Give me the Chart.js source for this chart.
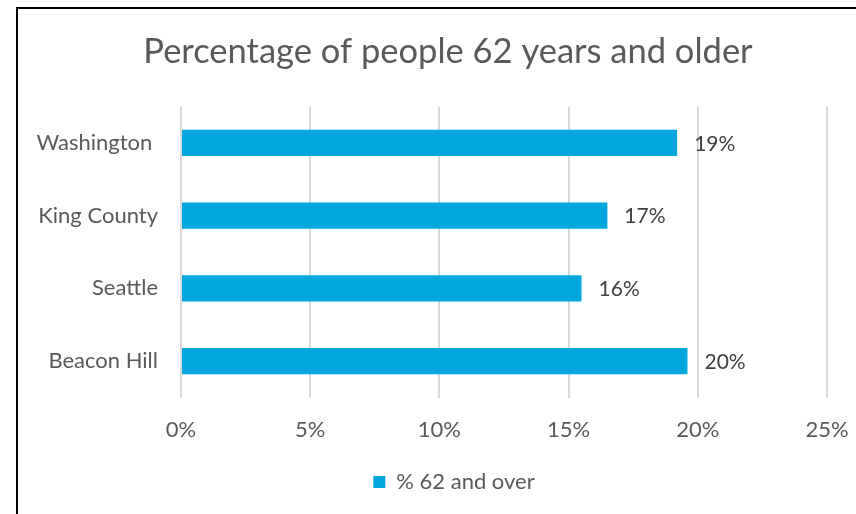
<!DOCTYPE html>
<html>
<head>
<meta charset="utf-8">
<script src="https://cdn.jsdelivr.net/npm/chart.js@4.4.1/dist/chart.umd.min.js"></script>
<style>
  html, body { margin: 0; padding: 0; background: #ffffff; }
  #wrap { position: relative; width: 856px; height: 514px; }
</style>
</head>
<body>
<div id="wrap"><canvas id="chart" width="856" height="514"></canvas></div>
<script>
// Share of residents aged 62+, by area
const categories = ['Washington ', 'King County', 'Seattle', 'Beacon Hill'];
const seriesName = '% 62 and over';
const seriesValues = [19.2, 16.5, 15.5, 19.6];
const axisTicks = [0, 5, 10, 15, 20, 25];
const chartTitle = 'Percentage of people 62 years and older';

const FONT = 'Lato, "Open Sans", sans-serif';
const TEXT = '#595959';
const BLUE = '#00A6DD';

const PLOT_LEFT = 181;     // left edge of the plotting area
const TITLE_SHIFT = 34.5;  // title/legend are centred on the card, not the canvas
const LEGEND_SHIFT = 40.5;

// Frame lines along the top and left edge of the card
const framePlugin = {
  id: 'frame',
  beforeDraw(chart) {
    const c = chart.ctx;
    c.save();
    c.fillStyle = '#ffffff';
    c.fillRect(0, 0, chart.width, chart.height);
    c.strokeStyle = '#000000';
    c.lineWidth = 2;
    c.beginPath();
    c.moveTo(17, chart.height);
    c.lineTo(17, 8);
    c.lineTo(chart.width, 8);
    c.stroke();
    c.restore();
  }
};

// Nudge title and legend sideways after layout
const centerBlocks = {
  id: 'centerBlocks',
  afterLayout(chart) {
    if (chart.titleBlock) {
      chart.titleBlock.left += TITLE_SHIFT;
      chart.titleBlock.right += TITLE_SHIFT;
    }
    if (chart.legend) {
      chart.legend.left += LEGEND_SHIFT;
      chart.legend.right += LEGEND_SHIFT;
    }
  }
};

// Percent value written to the right of each bar
const valueLabels = {
  id: 'valueLabels',
  afterDatasetsDraw(chart) {
    const c = chart.ctx;
    const meta = chart.getDatasetMeta(0);
    c.save();
    c.font = '21px ' + FONT;
    c.fillStyle = '#404040';
    c.textAlign = 'left';
    c.textBaseline = 'middle';
    meta.data.forEach((bar, i) => {
      const v = chart.data.datasets[0].data[i];
      c.fillText(Math.round(v) + '%', bar.x + 17, bar.y + 1);
    });
    c.restore();
  }
};

new Chart(document.getElementById('chart'), {
  type: 'bar',
  data: {
    labels: categories,
    datasets: [{
      label: seriesName,
      data: seriesValues,
      backgroundColor: BLUE,
      borderWidth: 0,
      categoryPercentage: 1,
      barPercentage: 0.36
    }]
  },
  options: {
    indexAxis: 'y',
    responsive: false,
    animation: false,
    layout: { padding: { left: 0, right: 29, top: 0, bottom: 11 } },
    plugins: {
      title: {
        display: true,
        text: chartTitle,
        color: TEXT,
        font: { family: FONT, size: 34.5, weight: 'normal' },
        padding: { top: 31, bottom: 34 }
      },
      legend: {
        display: true,
        position: 'bottom',
        labels: {
          color: TEXT,
          font: { family: FONT, size: 22 },
          boxWidth: 12,
          boxHeight: 12,
          padding: 10
        }
      },
      tooltip: { enabled: false }
    },
    scales: {
      x: {
        min: 0,
        max: 25,
        afterBuildTicks(scale) {
          scale.ticks = axisTicks.map(v => ({ value: v }));
        },
        afterFit(scale) { scale.height = 63.5; },
        grid: {
          color: '#D9D9D9',
          lineWidth: 2,
          drawTicks: true,
          tickLength: 19,
          tickColor: 'rgba(0,0,0,0)'
        },
        border: { display: false },
        ticks: {
          color: TEXT,
          font: { family: FONT, size: 22 },
          padding: 0,
          callback: v => v + '%'
        }
      },
      y: {
        afterFit(scale) { scale.width = PLOT_LEFT; },
        grid: { display: false, drawTicks: false },
        border: { display: false },
        ticks: {
          color: TEXT,
          font: { family: FONT, size: 22 },
          padding: 23
        }
      }
    }
  },
  plugins: [framePlugin, centerBlocks, valueLabels]
});
</script>
</body>
</html>
